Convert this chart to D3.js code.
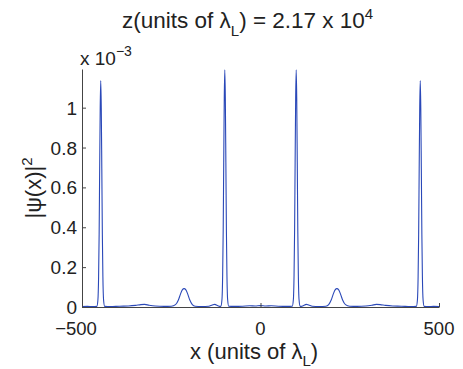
<!DOCTYPE html>
<html>
<head>
<meta charset="utf-8">
<script src="https://cdn.jsdelivr.net/npm/d3@7"></script>
<style>
  body { margin: 0; background: #fff; }
  text { font-family: "Liberation Sans", Arial, sans-serif; fill: #222; }
</style>
</head>
<body>
<svg id="chart" width="463" height="369"></svg>
<script>
// x positions (units of lambda_L) and |psi(x)|^2 values (units of 1e-3)
var xVals = [
  -500, -485, -470, -458.5, -455.5, -453.5, -452, -450.5, -449, -447.5, -446, -444.5, -443, -441.5, -439.5, -436.5,
  -420, -395, -370, -350, -335, -325, -312, -295, -270, -250,
  -238, -230, -224, -219, -214, -209, -204, -198, -191, -183, -165,
  -145, -135, -128, -121, -114, -111, -108, -106, -104.5, -103, -101.5, -100, -98.5, -97, -95.5, -94, -92, -89,
  -75, -50, -30, -15, 0, 15, 30, 50, 75,
  89, 92, 94, 95.5, 97, 98.5, 100, 101.5, 103, 104.5, 106, 108, 111, 114, 121, 128, 135, 145,
  165, 183, 191, 198, 204, 209, 214, 219, 224, 230, 238,
  250, 270, 295, 312, 325, 335, 350, 370, 395, 420,
  436.5, 439.5, 441.5, 443, 444.5, 446, 447.5, 449, 450.5, 452, 453.5, 455.5, 458.5, 470, 485, 500
];
var yVals = [
  0.002, 0.003, 0.002, 0.003, 0.034, 0.153, 0.364, 0.693, 1.0, 1.136, 1.0, 0.693, 0.364, 0.153, 0.034, 0.003,
  0.002, 0.004, 0.005, 0.008, 0.012, 0.013, 0.009, 0.005, 0.003, 0.004,
  0.012, 0.035, 0.066, 0.086, 0.092, 0.086, 0.066, 0.035, 0.012, 0.004, 0.002,
  0.004, 0.010, 0.013, 0.007, 0.003, 0.004, 0.036, 0.161, 0.381, 0.726, 1.047, 1.19, 1.047, 0.726, 0.381, 0.161, 0.036, 0.004,
  0.003, 0.004, 0.006, 0.005, 0.007, 0.005, 0.006, 0.004, 0.003,
  0.004, 0.036, 0.161, 0.381, 0.726, 1.047, 1.19, 1.047, 0.726, 0.381, 0.161, 0.036, 0.004, 0.003, 0.007, 0.013, 0.010, 0.004,
  0.002, 0.004, 0.012, 0.035, 0.066, 0.086, 0.092, 0.086, 0.066, 0.035, 0.012,
  0.004, 0.003, 0.005, 0.009, 0.013, 0.012, 0.008, 0.005, 0.004, 0.002,
  0.003, 0.034, 0.153, 0.364, 0.693, 1.0, 1.136, 1.0, 0.693, 0.364, 0.153, 0.034, 0.003, 0.002, 0.003, 0.002
];
var xTicks = [-500, 0, 500];
var yTicks = [0, 0.2, 0.4, 0.6, 0.8, 1];

var svg = d3.select("#chart");
var mLeft = 82, mRight = 439, mTop = 69, mBottom = 307;

var x = d3.scaleLinear().domain([-500, 500]).range([mLeft, mRight]);
var y = d3.scaleLinear().domain([0, 1.194]).range([mBottom, mTop]);

var points = xVals.map(function(v, i) { return [v, yVals[i]]; });

//curve
var line = d3.line()
    .x(function(d) { return x(d[0]); })
    .y(function(d) { return y(d[1]); })
    .curve(d3.curveMonotoneX);

svg.append("path")
    .datum(points)
    .attr("d", line)
    .attr("fill", "none")
    .attr("stroke", "#2a48b8")
    .attr("stroke-width", 1.1);

//axes (ticks inward, no box)
var xAxis = svg.append("g")
    .attr("transform", "translate(0," + mBottom + ")")
    .call(d3.axisTop(x).tickValues(xTicks).tickSize(4).tickSizeOuter(0).tickFormat(""));
var yAxis = svg.append("g")
    .attr("transform", "translate(" + mLeft + ",0)")
    .call(d3.axisRight(y).tickValues(yTicks).tickSize(4).tickSizeOuter(0).tickFormat(""));
[xAxis, yAxis].forEach(function(a) {
    a.select(".domain").attr("stroke", "#444").attr("stroke-width", 1);
    a.selectAll(".tick line").attr("stroke", "#444");
});

//tick labels; the minus sign hangs to the left of a centred number
svg.append("g").selectAll("text")
    .data(xTicks)
    .enter().append("text")
    .attr("x", function(d) { return x(d) + (d < 0 ? -6 : 0); })
    .attr("y", 335)
    .attr("text-anchor", "middle")
    .style("font-size", "18.5px")
    .text(function(d) { return d < 0 ? "\u2212" + Math.abs(d) : d; });

svg.append("g").selectAll("text")
    .data(yTicks)
    .enter().append("text")
    .attr("x", mLeft - 5)
    .attr("y", function(d) { return y(d) + 7; })
    .attr("text-anchor", "end")
    .style("font-size", "19px")
    .text(function(d) { return d; });

//exponent label
var mult = svg.append("text").attr("x", 80).attr("y", 65).style("font-size", "19px");
mult.append("tspan").text("x 10");
mult.append("tspan").attr("dy", -9).style("font-size", "14px").text("\u22123");

//title
var title = svg.append("text").attr("x", 122).attr("y", 28).style("font-size", "22.5px");
title.append("tspan").text("z(units of \u03bb");
title.append("tspan").attr("dy", 8).style("font-size", "15px").text("L");
title.append("tspan").attr("dy", -8).text(") = 2.17 x 10");
title.append("tspan").attr("dy", -9).style("font-size", "15px").text("4");

//x label
var xl = svg.append("text").attr("x", 190).attr("y", 358.5).style("font-size", "22px");
xl.append("tspan").text("x (units of \u03bb");
xl.append("tspan").attr("dy", 7).style("font-size", "15px").text("L");
xl.append("tspan").attr("dy", -7).text(")");

//y label
var yl = svg.append("text")
    .attr("transform", "translate(41,188) rotate(-90)")
    .attr("text-anchor", "middle")
    .style("font-size", "22px");
yl.append("tspan").text("|\u03c8(x)|");
yl.append("tspan").attr("dy", -9).style("font-size", "15px").text("2");
</script>
</body>
</html>
